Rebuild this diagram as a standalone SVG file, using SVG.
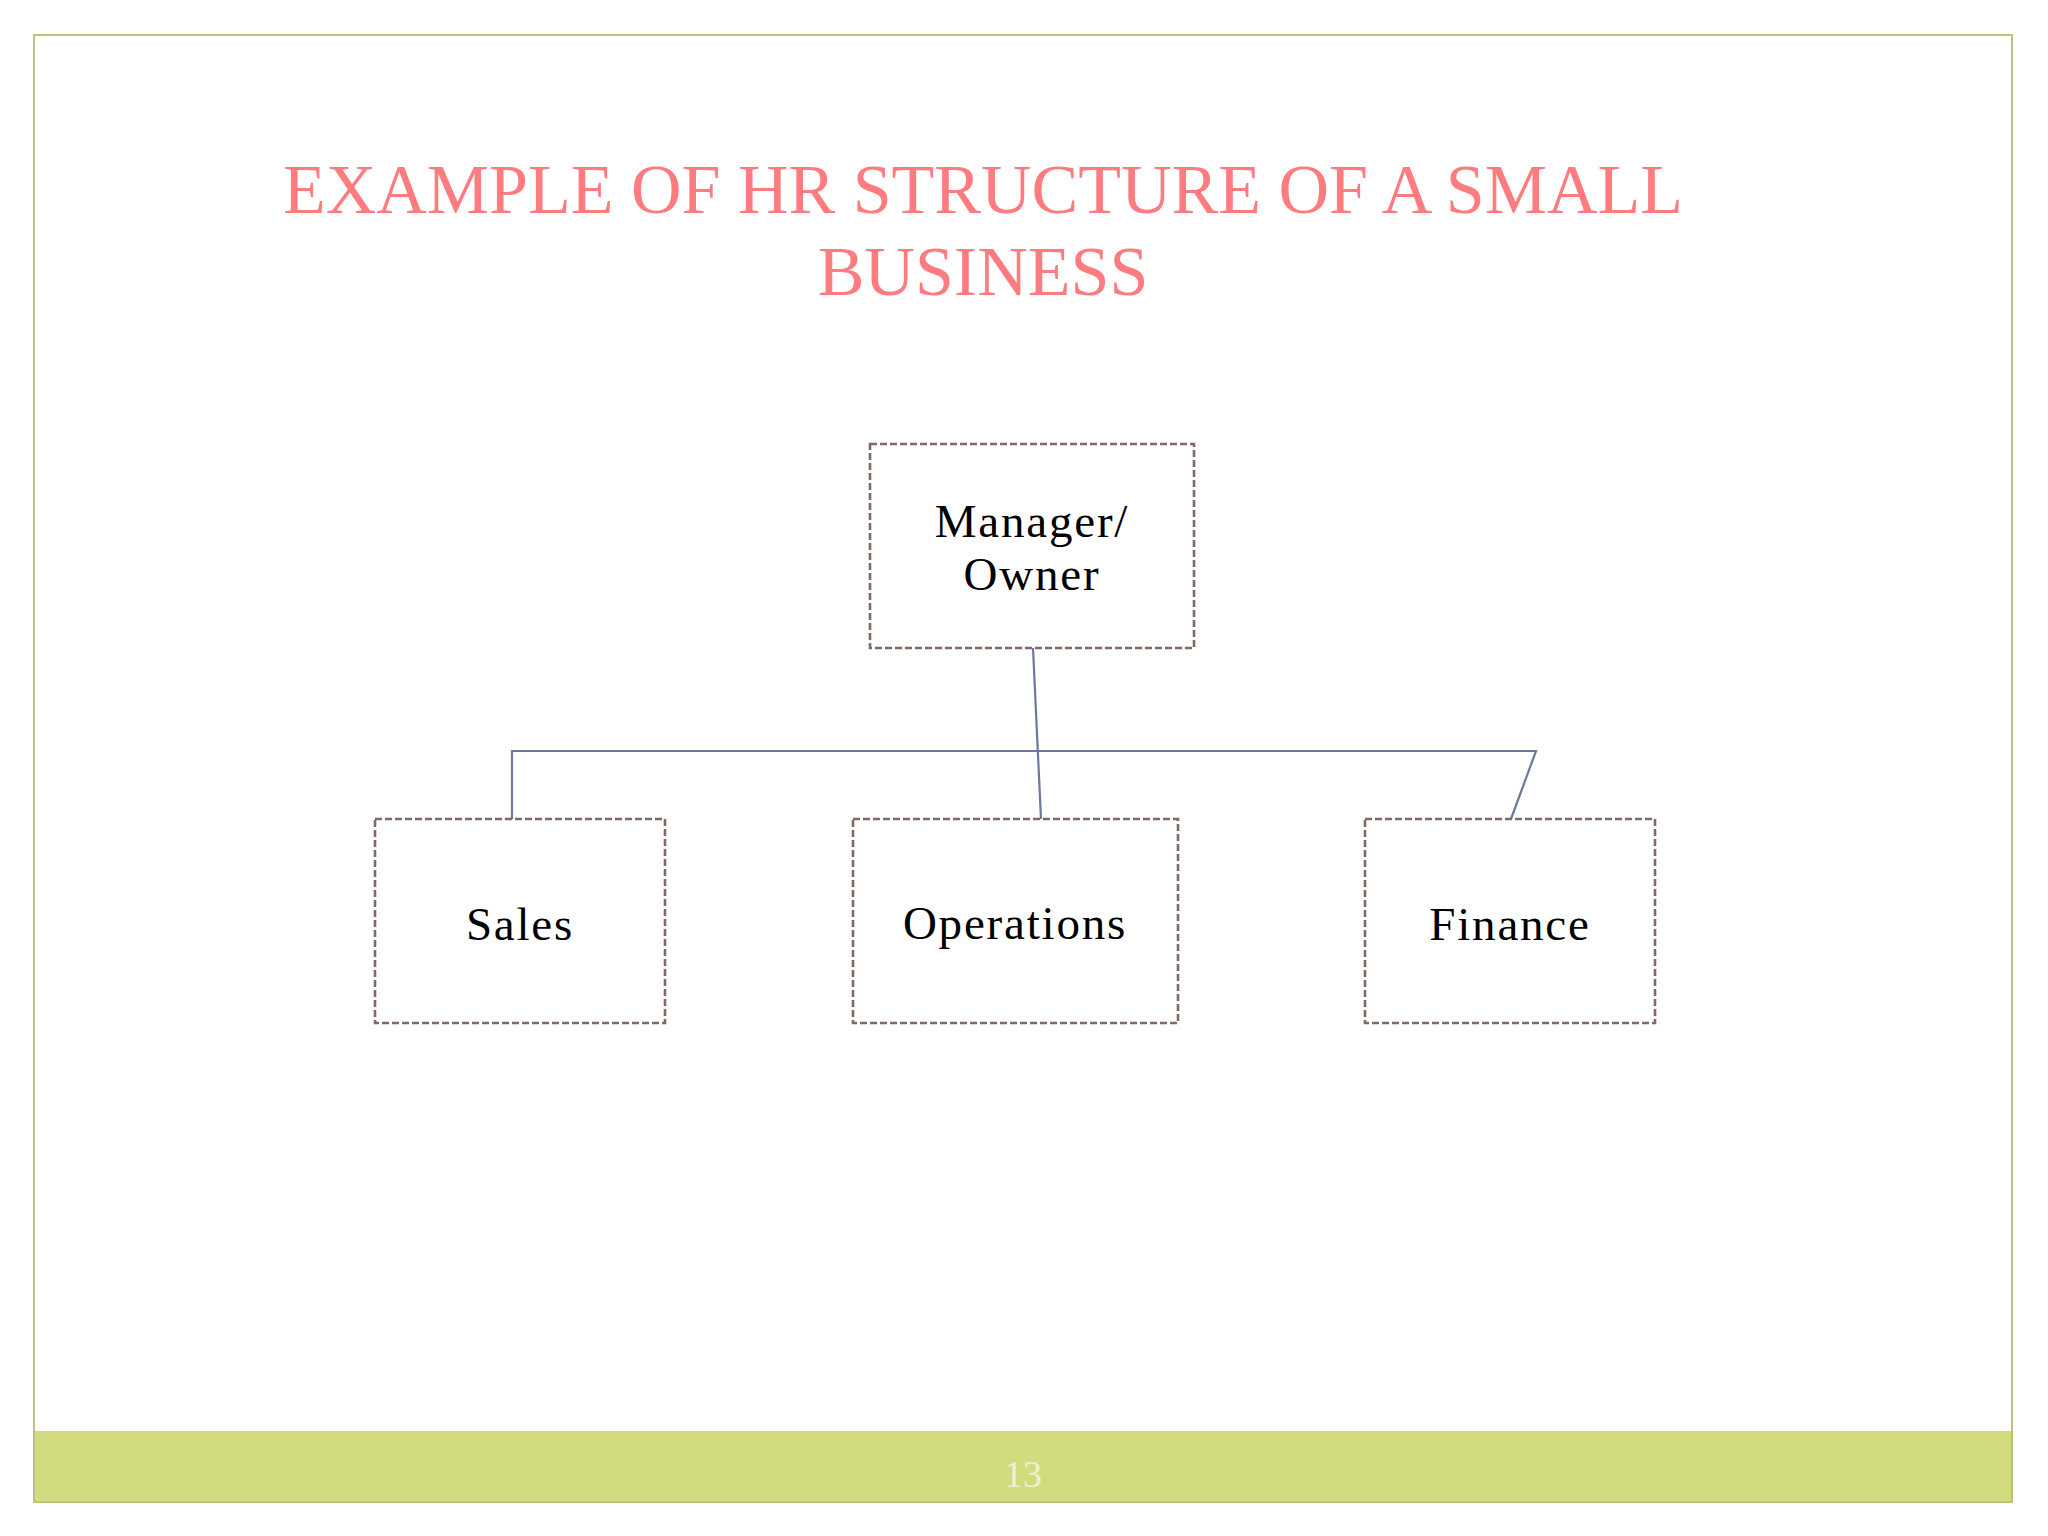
<svg xmlns="http://www.w3.org/2000/svg" width="2048" height="1536" viewBox="0 0 2048 1536">
<style>
.node rect{fill:#FFFFFF;stroke:#806A64;stroke-width:2.6;stroke-dasharray:7 3}
.node text{font-family:"Liberation Serif","Times New Roman",serif;font-size:47px;fill:#000000;text-anchor:middle;letter-spacing:1.8px}
.title{font-family:"Liberation Serif","Times New Roman",serif;font-size:70px;fill:#FE7C80;text-anchor:middle}
.conn{fill:none;stroke:#6C78A2;stroke-width:2.2}
</style>
<rect x="0" y="0" width="2048" height="1536" fill="#FFFFFF"/>
<g id="frame">
<rect x="34" y="1431" width="1978" height="71" fill="#D2DB7E"/>
<rect x="34" y="35" width="1978" height="1467" fill="none" stroke="#B7C679" stroke-width="2"/>
<text x="1023" y="1487" font-family="'Liberation Serif','Times New Roman',serif" font-size="38" fill="#EEF1CF" text-anchor="middle">13</text>
</g>
<g id="title">
<text class="title" x="983" y="213">EXAMPLE OF HR STRUCTURE OF A SMALL</text>
<text class="title" x="983" y="295">BUSINESS</text>
</g>
<g id="connectors">
<path class="conn" d="M1033,648 L1041,819"/>
<path class="conn" d="M512,819 L512,751 L1536,751 L1511,819"/>
</g>
<g id="node-manager" class="node">
<rect x="870" y="444" width="324" height="204"/>
<text x="1032" y="537">Manager/</text>
<text x="1032" y="590">Owner</text>
</g>
<g id="node-sales" class="node">
<rect x="375" y="819" width="290" height="204"/>
<text x="520" y="940">Sales</text>
</g>
<g id="node-operations" class="node">
<rect x="853" y="819" width="325" height="204"/>
<text x="1015" y="939">Operations</text>
</g>
<g id="node-finance" class="node">
<rect x="1365" y="819" width="290" height="204"/>
<text x="1510" y="940">Finance</text>
</g>
</svg>
